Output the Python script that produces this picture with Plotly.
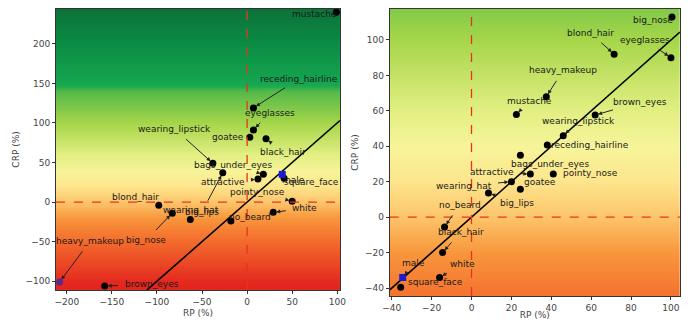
import numpy as np
import plotly.graph_objects as go

# ---------------- data ----------------
left_labels = ["mustache", "receding_hairline", "eyeglasses", "goatee", "black_hair",
               "wearing_lipstick", "bags_under_eyes", "attractive", "big_lips", "square_face",
               "male", "pointy_nose", "white", "no_beard", "blond_hair", "wearing_hat",
               "big_nose", "heavy_makeup", "brown_eyes"]
left_rp = [99, 7, 7, 3, 21, -38, 18, 12, -27, 41, 39, 50, 29, -18, -98, -63, -83, -208, -158]
left_crp = [240, 119, 91, 82, 80, 49, 35, 29, 37, 30, 35, 1, -13, -24, -4, -22, -14, -101, -106]

right_labels = ["big_nose", "blond_hair", "eyeglasses", "heavy_makeup", "mustache",
                "brown_eyes", "wearing_lipstick", "receding_hairline", "bags_under_eyes",
                "pointy_nose", "attractive", "goatee", "wearing_hat", "big_lips", "no_beard",
                "black_hair", "male", "white", "square_face"]
right_rp = [100.5, 71.5, 100, 37.5, 22.5, 62, 46, 38, 24.5, 41, 29.5, 24.5, 20, 8.5, -13.5,
            -14.5, -34.5, -16, -35.5]
right_crp = [113, 92, 90, 68, 58, 57.6, 46, 40.7, 35, 24.3, 24.3, 15.8, 20, 13.6, -5.6,
             -20, -34, -34, -39.5]

left_xticks = [-200, -150, -100, -50, 0, 50, 100]
left_yticks = [-100, -50, 0, 50, 100, 150, 200]
right_xticks = [-40, -20, 0, 20, 40, 60, 80, 100]
right_yticks = [-40, -20, 0, 20, 40, 60, 80, 100]

# ---------------- layout helpers ----------------
left_xr, left_yr = [-212, 103], [-111, 244]
right_xr, right_yr = [-41, 104.5], [-44.5, 117.5]

# label text anchor positions (data coords)
left_text_pos = {
    "mustache": (75, 238), "receding_hairline": (58, 156), "eyeglasses": (25, 113),
    "goatee": (-21, 82), "black_hair": (40, 63), "wearing_lipstick": (-80, 92),
    "bags_under_eyes": (-16, 47), "attractive": (-27, 25), "big_lips": (-50, -12),
    "square_face": (71, 25), "male": (52, 28), "pointy_nose": (11, 13), "white": (64, -8),
    "no_beard": (3, -19), "blond_hair": (-124, 6), "wearing_hat": (-62, -10),
    "big_nose": (-112, -48), "heavy_makeup": (-174, -49), "brown_eyes": (-106, -104),
}
right_text_pos = {
    "big_nose": (91, 111), "blond_hair": (59.5, 104), "eyeglasses": (87, 100),
    "heavy_makeup": (46, 83), "mustache": (29, 65.5), "brown_eyes": (84.5, 65),
    "wearing_lipstick": (53.5, 54), "receding_hairline": (59.5, 40.7),
    "bags_under_eyes": (39.5, 30), "pointy_nose": (59.5, 25), "attractive": (10.5, 25.4),
    "goatee": (34.5, 20), "wearing_hat": (-4, 17.5), "big_lips": (23, 8),
    "no_beard": (-6, 7), "black_hair": (-5.5, -8.5), "male": (-29, -26),
    "white": (-4.5, -26.5), "square_face": (-18, -36.7),
}

# background colour map keyed on CRP value
ZMIN, ZMAX = -120, 250
stops = [(-120, "#de1c1c"), (-100, "#e42a20"), (-50, "#f36a2c"), (-20, "#f8963c"),
         (0, "#fdc46a"), (20, "#fde58c"), (40, "#f7f49a"), (60, "#e2ef82"),
         (100, "#a6d64a"), (140, "#55b948"), (148, "#16a850"), (200, "#0b8c45"),
         (250, "#0d6f37")]
colorscale = [[(v - ZMIN) / (ZMAX - ZMIN), c] for v, c in stops]

fig = go.Figure()

FONT = "DejaVu Sans"


def add_panel(xr, yr, xa, ya, labels, xs, ys, text_pos):
    yy = np.linspace(yr[0], yr[1], 200)
    fig.add_trace(go.Heatmap(x=xr, y=yy, z=[[v, v] for v in yy], coloraxis="coloraxis",
                             zsmooth="best", xaxis=xa, yaxis=ya, hoverinfo="skip"))
    # identity line
    lo, hi = max(xr[0], yr[0]), min(xr[1], yr[1])
    fig.add_trace(go.Scatter(x=[lo, hi], y=[lo, hi], mode="lines",
                             line=dict(color="black", width=1.6), xaxis=xa, yaxis=ya,
                             showlegend=False, hoverinfo="skip"))
    colors = []
    symbols = []
    for lab in labels:
        if lab == "male":
            colors.append("#1a1ad0")
            symbols.append("square")
        elif lab == "heavy_makeup" and xa == "x":
            colors.append("#5a2a8a")
            symbols.append("circle")
        else:
            colors.append("black")
            symbols.append("circle")
    fig.add_trace(go.Scatter(x=xs, y=ys, mode="markers",
                             marker=dict(color=colors, size=7, symbol=symbols),
                             xaxis=xa, yaxis=ya, showlegend=False, text=labels))
    for lab, px, py in zip(labels, xs, ys):
        tx, ty = text_pos[lab]
        fig.add_annotation(x=px, y=py, ax=tx, ay=ty, axref=xa, ayref=ya,
                           xref=xa, yref=ya, text=lab, showarrow=True,
                           arrowhead=2, arrowsize=0.8, arrowwidth=1, arrowcolor="#222",
                           standoff=3, startstandoff=5,
                           font=dict(family=FONT, size=9, color="#1a1a1a"))
    # dashed zero lines
    fig.add_shape(type="line", xref=xa, yref=ya, x0=0, x1=0, y0=yr[0], y1=yr[1],
                  line=dict(color="#e8341c", width=1.3, dash="dash"))
    fig.add_shape(type="line", xref=xa, yref=ya, x0=xr[0], x1=xr[1], y0=0, y1=0,
                  line=dict(color="#e8341c", width=1.3, dash="dash"))


add_panel(left_xr, left_yr, "x", "y", left_labels, left_rp, left_crp, left_text_pos)
add_panel(right_xr, right_yr, "x2", "y2", right_labels, right_rp, right_crp, right_text_pos)

axis_common = dict(showgrid=False, zeroline=False, showline=True, linecolor="#333",
                   linewidth=1, mirror=True, ticks="outside", ticklen=3, tickcolor="#333",
                   automargin=False,
                   tickfont=dict(family=FONT, size=9, color="#444"),
                   title_font=dict(family=FONT, size=9, color="#444"))

fig.update_layout(
    width=691, height=320, margin=dict(l=0, r=0, t=0, b=0),
    paper_bgcolor="white", plot_bgcolor="white", showlegend=False,
    coloraxis=dict(colorscale=colorscale, cmin=ZMIN, cmax=ZMAX, showscale=False),
    xaxis=dict(domain=[0.081, 0.492], range=left_xr, tickvals=left_xticks,
               anchor="y", title=dict(text="RP (%)", standoff=3), **axis_common),
    yaxis=dict(domain=[0.094, 0.972], range=left_yr, tickvals=left_yticks,
               anchor="x", title=dict(text="CRP (%)", standoff=4), **axis_common),
    xaxis2=dict(domain=[0.564, 0.984], range=right_xr, tickvals=right_xticks,
                anchor="y2", title=dict(text="RP (%)", standoff=4), **axis_common),
    yaxis2=dict(domain=[0.075, 0.972], range=right_yr, tickvals=right_yticks,
                anchor="x2", title=dict(text="CRP (%)", standoff=4), **axis_common),
)

fig.write_html("out.html", config={"displayModeBar": False},
               post_script="document.body.style.margin='0';document.body.style.padding='0';")
